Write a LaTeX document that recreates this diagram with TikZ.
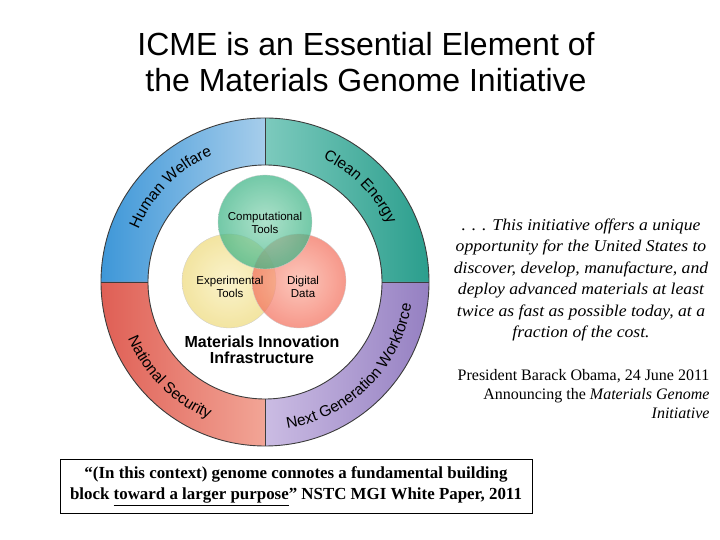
\documentclass[tikz,border=0pt]{standalone}
\usepackage{fontspec}
\setmainfont{Liberation Serif}
\setsansfont{Liberation Sans}
\newfontfamily\quotefont{Liberation Serif}[FakeStretch=1.07]
\usetikzlibrary{decorations.text}
\definecolor{hwA}{HTML}{3E97D8}
\definecolor{hwB}{HTML}{A6CDEB}
\definecolor{ceA}{HTML}{7CCABD}
\definecolor{ceB}{HTML}{2B9E8D}
\definecolor{nsA}{HTML}{DF5F55}
\definecolor{nsB}{HTML}{F2A596}
\definecolor{ngA}{HTML}{CBBCE3}
\definecolor{ngB}{HTML}{9580C2}
\definecolor{ringline}{HTML}{3C3C3C}
\definecolor{vennG}{HTML}{3DB486}
\definecolor{vennGl}{HTML}{8ED6B6}
\definecolor{vennY}{HTML}{EEDA7C}
\definecolor{vennYl}{HTML}{F8EEB8}
\definecolor{vennR}{HTML}{F3705D}
\definecolor{vennRl}{HTML}{FBB2A2}

\begin{document}
\begin{tikzpicture}[x=1pt,y=1pt,
  venn/.style={circle,minimum size=94,inner sep=0,fill opacity=0.72,draw=gray!40,line width=0.3pt},
  vlab/.style={font=\sffamily\fontsize{11.5}{13}\selectfont,align=center},
  ringlab/.style={decorate,decoration={text along path,text align=center,
    text={|\sffamily\fontsize{15.5}{18}\selectfont|#1}}}]
\useasboundingbox (0,0) rectangle (720,540);
\node[font=\sffamily\fontsize{32}{36}\selectfont,align=center](title) at(366,478){ICME is an Essential Element of\\the Materials Genome Initiative};
\coordinate (c) at (265,258);
\begin{scope}[shift={(c)}]
\foreach \s/\e/\ca/\cb in {180/90/hwA/hwB,90/0/ceA/ceB,270/180/nsA/nsB,360/270/ngA/ngB}
  \shade[left color=\ca,right color=\cb] (\s:164) arc[start angle=\s,end angle=\e,radius=164]
    -- (\e:117) arc[start angle=\e,end angle=\s,radius=117] -- cycle;
\draw[ringline,line width=0.9pt] (0,0) circle[radius=164] (0,0) circle[radius=117];
\foreach \a in {0,90,180,270}\draw[ringline,line width=0.9pt](\a:117)--(\a:164);
\path[ringlab={Human Welfare}] (180:137) arc[start angle=180,end angle=90,radius=137];
\path[ringlab={Clean Energy}] (90:136) arc[start angle=90,end angle=0,radius=136];
\path[ringlab={National Security}] (180:148) arc[start angle=180,end angle=270,radius=148];
\path[ringlab={Next Generation Workforce}] (270:148) arc[start angle=270,end angle=360,radius=148];
\end{scope}
\node[venn,inner color=vennYl,outer color=vennY](expt) at(229,259){};
\node[venn,inner color=vennRl,outer color=vennR](data) at(299,259){};
\node[venn,inner color=vennGl,outer color=vennG](comp) at(265,318){};
\node[vlab](compl) at(265,317.5){Computational\\Tools};
\node[vlab](exptl) at(230,253.5){Experimental\\Tools};
\node[vlab](datal) at(303,253.5){Digital\\Data};
\node[font=\sffamily\bfseries\fontsize{16}{16.5}\selectfont,align=center](mii) at(262,190){Materials Innovation\\Infrastructure};
\node[font=\quotefont\itshape\fontsize{16.5}{21.5}\selectfont,align=center](quote) at(581,260){. . . This initiative offers a unique\\opportunity for the United States to\\discover, develop, manufacture, and\\deploy advanced materials at least\\twice as fast as possible today, at a\\fraction of the cost.};
\node[font=\fontsize{16}{19}\selectfont,align=right,anchor=east](obama) at(713,146){President Barack Obama, 24 June 2011\\Announcing the \textit{Materials Genome}\\\textit{Initiative}};
\node[draw,line width=0.8pt,minimum width=472,minimum height=54,inner sep=0,font=\bfseries\fontsize{16.9}{21}\selectfont,align=center](nstc) at(296,54){“(In this context) genome connotes a fundamental building\\block \underline{toward a larger purpose}” NSTC MGI White Paper, 2011};
\end{tikzpicture}
\end{document}
